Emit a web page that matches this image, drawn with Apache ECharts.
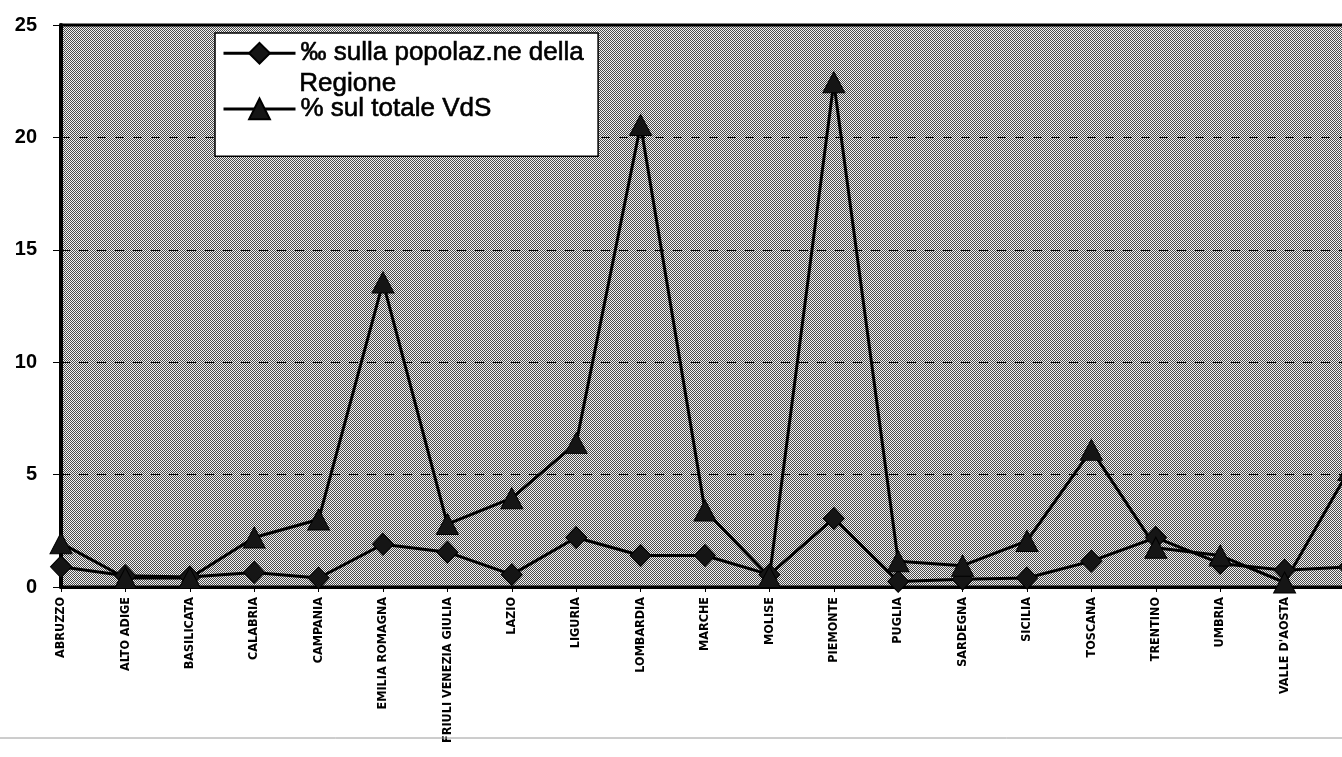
<!DOCTYPE html>
<html>
<head>
<meta charset="utf-8">
<script src="https://cdn.jsdelivr.net/npm/echarts@6/dist/echarts.min.js"></script>
<style>
html,body{margin:0;padding:0;background:#fff;}
#chart{width:1342px;height:757px;}
</style>
</head>
<body>
<div id="chart"></div>
<script>
const categories = ["ABRUZZO","ALTO ADIGE","BASILICATA","CALABRIA","CAMPANIA","EMILIA ROMAGNA","FRIULI VENEZIA GIULIA","LAZIO","LIGURIA","LOMBARDIA","MARCHE","MOLISE","PIEMONTE","PUGLIA","SARDEGNA","SICILIA","TOSCANA","TRENTINO","UMBRIA","VALLE D'AOSTA","VENETO"];
const popolazione = [0.9,0.5,0.45,0.65,0.4,1.9,1.55,0.55,2.2,1.4,1.4,0.55,3.05,0.25,0.35,0.4,1.15,2.2,1.05,0.75,0.9];
const totaleVdS = [1.95,0.4,0.4,2.2,3.0,13.55,2.8,3.95,6.4,20.55,3.4,0.45,22.45,1.15,0.95,2.05,6.1,1.75,1.4,0.2,5.2];
const seriesNames = ["‰ sulla popolaz.ne della", "% sul totale VdS"];
const legendSecondLine = "Regione";
const yTicks = [0,5,10,15,20,25];

// halftone-like checker pattern for plot background
const pc = document.createElement('canvas');
pc.width = 2; pc.height = 2;
const pctx = pc.getContext('2d');
pctx.fillStyle = '#f2f2f2'; pctx.fillRect(0,0,2,2);
pctx.fillStyle = '#4a4a4a'; pctx.fillRect(0,0,1,1); pctx.fillRect(1,1,1,1);

const chart = echarts.init(document.getElementById('chart'), null, {renderer:'canvas'});
const font = "'Liberation Sans', Arial, sans-serif";
chart.setOption({
  animation: false,
  backgroundColor: '#ffffff',
  grid: {
    left: 61, width: 1288, top: 25, bottom: 170,
    outerBoundsMode: 'none',
    containLabel: false,
    show: true,
    backgroundColor: {image: pc, repeat: 'repeat'},
    borderColor: '#000', borderWidth: 3
  },
  legend: {
    orient: 'vertical',
    left: 215, top: 33,
    itemWidth: 72, itemHeight: 26, itemGap: 29,
    padding: [7, 14, 34, 7],
    backgroundColor: '#ffffff',
    borderColor: '#000', borderWidth: 1.5,
    lineStyle: {width: 3, color: '#000'},
    textStyle: {fontFamily: font, fontSize: 26, color: '#000', lineHeight: 26,
                textBorderColor: '#000', textBorderWidth: 0.6},
    data: seriesNames
  },
  xAxis: {
    type: 'category',
    data: categories,
    boundaryGap: false,
    axisLine: {lineStyle: {color: '#000', width: 3}},
    axisTick: {show: true, length: 5, lineStyle: {color: '#000', width: 1}},
    axisLabel: {
      rotate: 90, interval: 0, margin: 10, hideOverlap: false,
      fontFamily: "'DejaVu Sans Condensed', 'Liberation Sans Narrow', sans-serif",
      fontWeight: 'bold', fontSize: 12.5, color: '#000'
    },
    splitLine: {show: false}
  },
  yAxis: {
    type: 'value',
    min: 0, max: 25, interval: 5,
    axisLine: {show: true, lineStyle: {color: '#000', width: 4}},
    axisTick: {show: true, length: 8, lineStyle: {color: '#000', width: 1}},
    axisLabel: {
      margin: 24, fontFamily: font, fontWeight: 'bold', fontSize: 20, color: '#000',
      formatter: function (v) { return yTicks.indexOf(v) >= 0 ? String(v) : ''; }
    },
    splitLine: {show: true, lineStyle: {color: '#000', width: 1, type: [9, 9]}}
  },
  series: [
    {
      name: seriesNames[0], type: 'line', data: popolazione,
      symbol: 'diamond', symbolSize: [21, 22],
      lineStyle: {color: '#000', width: 3},
      itemStyle: {color: '#151515', borderColor: '#000', borderWidth: 1}
    },
    {
      name: seriesNames[1], type: 'line', data: totaleVdS,
      symbol: 'triangle', symbolSize: [22, 21],
      lineStyle: {color: '#000', width: 3},
      itemStyle: {color: '#151515', borderColor: '#000', borderWidth: 1}
    }
  ],
  graphic: [
    {type: 'text', left: 299, top: 71, z: 100,
     style: {text: legendSecondLine, fontFamily: font, fontSize: 26, fill: '#000',
             stroke: '#000', lineWidth: 0.6}},
    {type: 'line', z: 1, shape: {x1: 0, y1: 738, x2: 1342, y2: 738},
     style: {stroke: '#9a9a9a', lineWidth: 1}}
  ]
});
</script>
</body>
</html>
